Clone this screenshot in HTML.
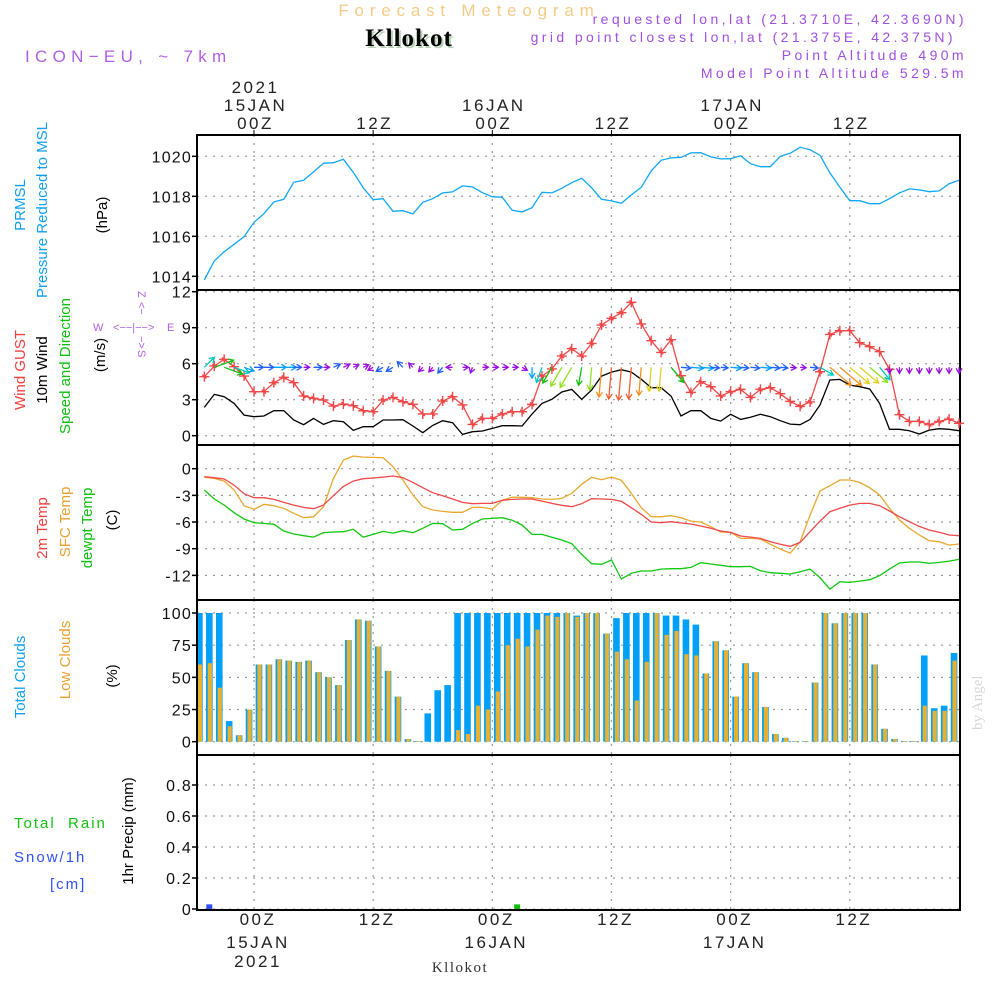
<!DOCTYPE html>
<html><head><meta charset="utf-8"><style>
html,body{margin:0;padding:0;background:#fff}
svg{display:block;font-family:"Liberation Sans",sans-serif}
</style></head><body>
<svg id="chart" width="1000" height="1000" viewBox="0 0 1000 1000" xmlns="http://www.w3.org/2000/svg">
<rect width="1000" height="1000" fill="#fff"/>
<text x="469" y="16" text-anchor="middle" font-size="17" letter-spacing="5.8" fill="#f2cc88">Forecast Meteogram</text>
<text x="411" y="48" text-anchor="middle" font-size="25" font-weight="bold" font-family="Liberation Serif,serif" letter-spacing="1" fill="#b8d0b8">Kllokot</text>
<text x="409" y="46" text-anchor="middle" font-size="25" font-weight="bold" font-family="Liberation Serif,serif" letter-spacing="1" fill="#000">Kllokot</text>
<text x="25" y="62" font-size="17" letter-spacing="5.3" fill="#b060e8">ICON−EU, ~ 7km</text>
<g font-size="14" letter-spacing="3.4" fill="#a050e0" text-anchor="end">
<text x="967" y="24">requested lon,lat (21.3710E, 42.3690N)</text>
<text x="956" y="42">grid point closest lon,lat (21.375E, 42.375N)</text>
<text x="967" y="60">Point Altitude 490m</text>
<text x="967" y="78">Model Point Altitude 529.5m</text>
</g>
<g id="axes"></g>
<g id="marks"></g>
<g font-size="15">
<text transform="translate(25,205) rotate(-90)" text-anchor="middle" fill="#10a0f0">PRMSL</text>
<text transform="translate(47,210) rotate(-90)" text-anchor="middle" fill="#10a0f0">Pressure Reduced to MSL</text>
<text transform="translate(107,215) rotate(-90)" text-anchor="middle" fill="#000">(hPa)</text>
<text transform="translate(25,370) rotate(-90)" text-anchor="middle" fill="#f04040">Wind GUST</text>
<text transform="translate(47,370) rotate(-90)" text-anchor="middle" fill="#000">10m Wind</text>
<text transform="translate(70,366) rotate(-90)" text-anchor="middle" fill="#10c010">Speed and Direction</text>
<text transform="translate(105,355) rotate(-90)" text-anchor="middle" fill="#000">(m/s)</text>
<text transform="translate(47,528) rotate(-90)" text-anchor="middle" fill="#f04040">2m Temp</text>
<text transform="translate(70,522) rotate(-90)" text-anchor="middle" fill="#e8a030">SFC Temp</text>
<text transform="translate(92,528) rotate(-90)" text-anchor="middle" fill="#10c010">dewpt Temp</text>
<text transform="translate(117,520) rotate(-90)" text-anchor="middle" fill="#000">(C)</text>
<text transform="translate(25,677) rotate(-90)" text-anchor="middle" fill="#10a0f0">Total Clouds</text>
<text transform="translate(70,660) rotate(-90)" text-anchor="middle" fill="#e8a030">Low Clouds</text>
<text transform="translate(117,676) rotate(-90)" text-anchor="middle" fill="#000">(%)</text>
<text x="14" y="828" fill="#10c010" letter-spacing="2" xml:space="preserve">Total  Rain</text>
<text x="14" y="862" fill="#3050ff" letter-spacing="2">Snow/1h</text>
<text x="50" y="889" fill="#3050ff" letter-spacing="2">[cm]</text>
<text transform="translate(133,831) rotate(-90)" text-anchor="middle" fill="#000">1hr Precip (mm)</text>
</g>
<g font-size="11" fill="#b060e8">
<text x="93" y="331">W</text>
<text x="113" y="331">&lt;−−|−−&gt;</text>
<text x="167" y="331">E</text>
<text transform="translate(138,291) rotate(90)">Z</text>
<text transform="translate(138,302) rotate(90)">&lt;−</text>
<text transform="translate(138,336) rotate(90)">−&gt;</text>
<text transform="translate(138,350) rotate(90)">S</text>
</g>
<text transform="translate(982,730) rotate(-90)" font-family="Liberation Serif,serif" font-size="15" fill="#d8d8d8">by Angel</text>
<text x="460" y="972" text-anchor="middle" font-family="Liberation Serif,serif" font-size="15" letter-spacing="1.5" fill="#333">Kllokot</text>
</svg>
<script>
// hourly series start at hour -5 (relative to 15JAN 00Z)
const pressure=[1013.82,1014.77,1015.23,1015.6,1015.98,1016.7,1017.13,1017.72,1017.85,1018.7,1018.8,1019.23,1019.65,1019.68,1019.85,1019.2,1018.43,1017.83,1017.88,1017.25,1017.28,1017.12,1017.7,1017.88,1018.17,1018.22,1018.52,1018.47,1018.18,1017.98,1017.95,1017.3,1017.22,1017.43,1018.2,1018.17,1018.4,1018.68,1018.9,1018.43,1017.85,1017.77,1017.65,1018.07,1018.45,1019.27,1019.8,1019.92,1019.95,1020.17,1020.18,1019.97,1019.87,1019.88,1020.03,1019.63,1019.48,1019.48,1020.0,1020.15,1020.45,1020.33,1020.05,1019.17,1018.45,1017.78,1017.78,1017.63,1017.63,1017.88,1018.17,1018.37,1018.32,1018.23,1018.27,1018.63,1018.8];
const wind10m=[2.36,3.44,3.25,2.69,1.72,1.58,1.64,2.08,2.08,1.31,0.92,1.44,0.94,1.25,1.17,0.44,0.75,0.75,1.31,1.31,1.33,0.81,0.25,0.86,1.25,1.08,0.11,0.33,0.39,0.61,0.83,0.83,0.81,1.8,2.69,3.03,3.64,3.86,3.03,3.8,4.97,5.3,5.5,5.3,4.7,4.0,4.0,3.3,1.64,2.08,2.08,1.44,1.22,1.78,1.36,1.53,1.78,1.58,1.25,0.97,0.92,1.36,2.56,4.64,4.69,4.22,4.08,3.89,2.69,0.53,0.53,0.42,0.14,0.47,0.58,0.53,0.42];
const gust=[4.92,5.81,6.36,5.75,4.97,3.67,3.67,4.42,4.86,4.42,3.31,3.11,2.97,2.47,2.64,2.5,2.08,2.0,2.97,3.19,2.83,2.61,1.81,1.81,2.89,3.25,2.56,0.94,1.44,1.44,1.81,2.0,2.0,2.61,4.97,5.56,6.64,7.25,6.64,7.69,9.22,9.78,10.25,11.11,9.31,7.92,6.94,8.0,5.0,3.61,4.5,4.08,3.31,3.67,3.86,3.19,3.86,4.0,3.5,2.86,2.44,2.81,5.33,8.44,8.75,8.75,7.75,7.42,7.0,5.53,1.75,1.19,1.19,0.92,1.19,1.39,1.03];
const windDir=[225,250,290,290,290,270,270,270,270,270,270,270,270,245,245,245,245,60,60,60,135,135,45,40,40,90,270,20,270,270,270,270,300,0,20,30,30,30,10,5,5,5,5,5,5,5,5,320,275,275,275,275,275,275,275,275,275,275,275,275,275,275,300,310,310,310,310,310,320,0,0,0,0,0,0,0,0];
const temp2m=[-0.9,-1.01,-1.16,-1.84,-2.81,-3.26,-3.26,-3.45,-3.79,-4.09,-4.35,-4.5,-4.09,-3.04,-1.99,-1.39,-1.12,-1.05,-0.94,-0.82,-1.01,-1.54,-2.14,-2.7,-3.04,-3.41,-3.79,-3.94,-3.9,-3.9,-3.56,-3.45,-3.41,-3.41,-3.64,-3.9,-4.12,-4.27,-3.94,-3.37,-3.41,-3.45,-3.67,-4.39,-5.14,-6.0,-6.07,-5.96,-6.11,-6.22,-6.45,-6.71,-7.01,-7.16,-7.57,-7.69,-7.84,-8.21,-8.51,-8.74,-8.29,-7.09,-5.89,-4.84,-4.46,-4.09,-3.9,-3.9,-4.16,-4.76,-5.4,-5.96,-6.49,-6.9,-7.16,-7.46,-7.54];
const sfcTemp=[-0.97,-1.09,-1.39,-2.4,-4.16,-4.57,-4.01,-4.16,-4.46,-5.02,-5.51,-5.4,-4.27,-1.09,0.97,1.42,1.31,1.27,1.24,0.22,-1.27,-2.96,-4.27,-4.65,-4.8,-4.91,-4.91,-4.35,-4.35,-4.54,-3.56,-3.19,-3.22,-3.26,-3.41,-3.45,-3.34,-2.77,-1.76,-0.97,-1.24,-0.94,-1.31,-2.77,-4.39,-5.4,-5.4,-5.29,-5.51,-5.89,-6.0,-6.52,-7.12,-7.16,-7.84,-7.84,-7.91,-8.51,-9.04,-9.49,-8.21,-5.21,-2.51,-1.91,-1.27,-1.27,-1.54,-2.14,-2.96,-4.46,-5.77,-6.71,-7.46,-8.1,-8.21,-8.59,-8.47];
const dewpt=[-2.4,-3.41,-4.09,-4.95,-5.66,-6.07,-6.15,-6.26,-7.01,-7.35,-7.54,-7.69,-7.2,-7.12,-7.09,-6.82,-7.69,-7.39,-7.05,-7.24,-6.97,-7.2,-6.71,-6.15,-6.19,-6.9,-6.82,-6.15,-5.66,-5.59,-5.51,-5.81,-6.34,-7.39,-7.39,-7.72,-8.02,-8.44,-9.64,-10.69,-10.76,-10.27,-12.41,-11.77,-11.51,-11.51,-11.29,-11.25,-11.25,-11.1,-10.57,-10.72,-10.87,-11.02,-11.02,-10.99,-11.47,-11.7,-11.77,-11.85,-11.59,-11.29,-12.26,-13.54,-12.71,-12.79,-12.64,-12.49,-12.04,-11.29,-10.61,-10.5,-10.5,-10.65,-10.54,-10.39,-10.2];
// hourly bars, centred at hour -5.5 onward
const totalClouds=[100,100,100,16,5,25,60,60,64,63,62,63,54,50,44,79,95,94,74,55,35,2,0.5,22,40,44,100,100,100,100,100,100,100,100,100,100,100,100,98,100,100,84,96,100,100,100,100,98,98,95,91,53,78,71,35,61,54,27,6,3,0.5,0.5,46,100,92,100,100,100,60,10,2,0.5,0.5,67,26,28,69];
const lowClouds=[60,61,42,12,5,25,60,60,64,63,62,63,54,50,44,79,95,94,74,55,35,2,0.5,0,0,0,9,6,28,25,39,75,80,74,87,98,97,100,97,100,100,84,70,64,32,62,100,83,86,68,67,53,78,71,35,61,54,27,6,3,0.5,0.5,46,100,92,100,100,100,60,10,2,0.5,0.5,28,24,24,63];
const rain=[0,0,0,0,0,0,0,0,0,0,0,0,0,0,0,0,0,0,0,0,0,0,0,0,0,0,0,0,0,0,0,0,0.03,0,0,0,0,0,0,0,0,0,0,0,0,0,0,0,0,0,0,0,0,0,0,0,0,0,0,0,0,0,0,0,0,0,0,0,0,0,0,0,0,0,0,0,0];
const snow=[0,0.03,0,0,0,0,0,0,0,0,0,0,0,0,0,0,0,0,0,0,0,0,0,0,0,0,0,0,0,0,0,0,0,0,0,0,0,0,0,0,0,0,0,0,0,0,0,0,0,0,0,0,0,0,0,0,0,0,0,0,0,0,0,0,0,0,0,0,0,0,0,0,0,0,0,0,0];
const pressTicks=[1014,1016,1018,1020];
const windTicks=[0,3,6,9,12];
const tempTicks=[0,-3,-6,-9,-12];
const cloudTicks=[0,25,50,75,100];
const precipTicks=[0,0.2,0.4,0.6,0.8];
const timeTicks=[0,12,24,36,48,60];
const timeTop=[["2021","15JAN","00Z"],["","","12Z"],["","16JAN","00Z"],["","","12Z"],["","17JAN","00Z"],["","","12Z"]];
const timeBottom=[["00Z","15JAN","2021"],["12Z","",""],["00Z","16JAN",""],["12Z","",""],["00Z","17JAN",""],["12Z","",""]];

const NS="http://www.w3.org/2000/svg";
const X0=197,X1=960;
const xh=h=>254+h*9.93;
const yP=v=>276.3-(v-1014)*20;
const yW=v=>435.7-v*12;
const yT=v=>468.7-v*8.889;
const yC=v=>741.7-v*1.287;
const yR=v=>909-v*155;
const axes=document.getElementById('axes'),marks=document.getElementById('marks');
function mk(tag,attrs,parent){const e=document.createElementNS(NS,tag);for(const k in attrs)e.setAttribute(k,attrs[k]);parent.appendChild(e);return e;}
const panels=[[135,290,yP,pressTicks,'pressure',v=>v],[290,445,yW,windTicks,'wind',v=>v],[445,600,yT,tempTicks,'temperature',v=>v],[600,755,yC,cloudTicks,'clouds',v=>v],[755,910,yR,precipTicks,'precip',v=>v===0?'0':v.toFixed(1)]];
panels.forEach(p=>{
  const [t,b,f,ticks,nm,fmt]=p;
  const g=mk('g',{},axes);
  
  
  timeTicks.forEach(h=>{
    const l=mk('line',{x1:xh(h),x2:xh(h),y1:t,y2:b,stroke:'#999','stroke-width':1.2,'stroke-dasharray':'2 6'},g);
    
    
  });
  ticks.forEach(v=>{
    const y=f(v);
    const l=mk('line',{x1:X0,x2:X1,y1:y,y2:y,stroke:'#999','stroke-width':1.2,'stroke-dasharray':'2 6'},g);
    
    
    mk('line',{x1:X0-5,x2:X0,y1:y,y2:y,stroke:'#000','stroke-width':1.5},g);
    const tx=mk('text',{x:X0-5,y:y+6,'text-anchor':'end','font-size':16,'letter-spacing':1.2,fill:'#111'},g);
    
    
    tx.textContent=fmt(v);
  });
  const r=mk('rect',{x:X0,y:t,width:X1-X0,height:b-t,fill:'none',stroke:'#000','stroke-width':2},g);
  
  
});
timeTicks.forEach((h,i)=>{
  const x=xh(h);
  mk('line',{x1:x,x2:x,y1:130,y2:135,stroke:'#000'},axes);
  [93,111,129].forEach((y,j)=>{const s=timeTop[i][j];if(!s)return;
    const tx=mk('text',{x:x+1.5,y:y,'text-anchor':'middle','font-size':17,'letter-spacing':2.5,fill:'#222'},axes);
    
    
    tx.textContent=s;});
  [925,948,967].forEach((y,j)=>{const s=timeBottom[i][j];if(!s)return;
    const tx=mk('text',{x:x+4,y:y,'text-anchor':'middle','font-size':17,'letter-spacing':2.5,fill:'#222'},axes);
    
    
    tx.textContent=s;});
});
function line(arr,f,col,nm,w){
  const pts=arr.map((v,i)=>xh(i-5).toFixed(1)+','+f(v).toFixed(1)).join(' ');
  const e=mk('polyline',{points:pts,fill:'none',stroke:col,'stroke-width':w||1.3},marks);
  
  
}
line(pressure,yP,'#10a8f8','pressure-line');
line(wind10m,yW,'#000','wind-speed-line');
line(gust,yW,'#f04848','wind-gust-line');
gust.forEach((v,i)=>{
  const x=xh(i-5),y=yW(v);
  const p=mk('path',{d:`M${x-5},${y}H${x+5}M${x},${y-5}V${y+5}M${x-2},${y-2}L${x+2},${y+2}`,stroke:'#f04848','stroke-width':1.4,fill:'none'},marks);
  
  
});
function wcol(s){return s<1.2?'#9a10e0':s<1.7?'#2060ff':s<2.3?'#00a0ff':s<2.9?'#00c8c0':s<3.5?'#10c010':s<4?'#90e020':s<4.5?'#e0d020':s<5?'#f09020':'#f06030';}
windDir.forEach((d,i)=>{
  const s=wind10m[i],L=Math.max(6,6*s);
  const a=(d+180)*Math.PI/180;
  const dx=Math.sin(a),dy=-Math.cos(a);
  const x0=xh(i-5),y0=yW(5.7);
  const x1=x0+dx*L,y1=y0+dy*L;
  const hx1=x1-dx*5-dy*3,hy1=y1-dy*5+dx*3,hx2=x1-dx*5+dy*3,hy2=y1-dy*5-dx*3;
  const p=mk('path',{d:`M${x0},${y0}L${x1},${y1}M${hx1},${hy1}L${x1},${y1}L${hx2},${hy2}`,stroke:wcol(s),'stroke-width':1.3,fill:'none'},marks);
  
  
});
line(sfcTemp,yT,'#e8a830','sfc-temp-line');
line(temp2m,yT,'#f04848','temp-2m-line');
line(dewpt,yT,'#10c810','dewpoint-line');
totalClouds.forEach((v,i)=>{
  const xc=xh(i-5.5);
  const xl=Math.max(X0+1,xc-3.3),xr=Math.min(X1-1,xc+3.3);
  if(xr>xl){
    const r=mk('rect',{x:xl,y:yC(v),width:xr-xl,height:yC(0)-yC(v),fill:'#00a0f8'},marks);
    
    
  }
  const lv=lowClouds[i];
  const ll=Math.max(X0+1,xc-1.6),lr=Math.min(X1-1,xc+2.6);
  if(lv>0&&lr>ll){
    const r2=mk('rect',{x:ll,y:yC(lv),width:lr-ll,height:yC(0)-yC(lv),fill:'#e8b030'},marks);
    
    
  }
});
rain.forEach((v,i)=>{if(v<=0)return;const xc=xh(i-5.5);
  const r=mk('rect',{x:xc-3,y:yR(v),width:6,height:yR(0)-yR(v),fill:'#10c010'},marks);
  
  });
snow.forEach((v,i)=>{if(v<=0)return;const xc=xh(i-5.5);
  const r=mk('rect',{x:xc-3,y:yR(v),width:6,height:yR(0)-yR(v),fill:'#3050ff'},marks);
  
  });
</script>
</body></html>
